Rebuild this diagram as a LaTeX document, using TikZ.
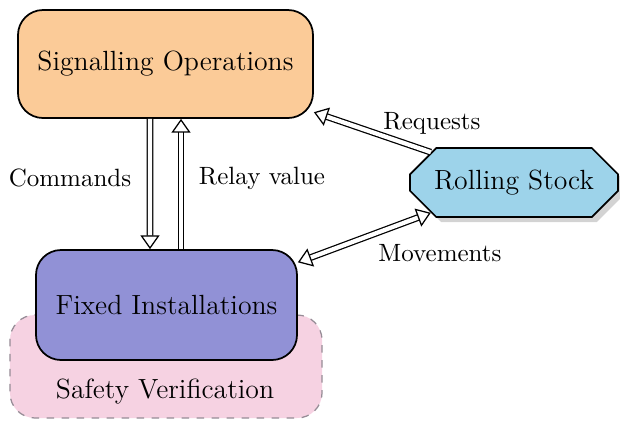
\documentclass[tikz,border=0pt]{standalone}
\usetikzlibrary{arrows.meta,shapes.misc,shadows}
\definecolor{sigfill}{RGB}{251,203,152}
\definecolor{fixfill}{RGB}{145,145,214}
\definecolor{rsfill}{RGB}{157,211,234}
\definecolor{safefill}{RGB}{246,210,226}
\definecolor{safeline}{RGB}{150,140,150}
\begin{document}
\begin{tikzpicture}[x=0.4pt,y=-0.4pt,
  big/.style={font=\fontsize{11.1}{13}\selectfont},
  box/.style={draw=black, line width=0.7pt, rounded corners=10pt, align=center, inner sep=0pt, big},
  tip/.style={},
  dblarrow/.style={double, double distance=1.7pt, line width=0.5pt, -{Triangle[open,length=5.5pt,width=7.6pt,line width=0.5pt]}},
  dblboth/.style={double, double distance=1.7pt, line width=0.5pt, {Triangle[open,length=5.5pt,width=7.6pt,line width=0.5pt]}-{Triangle[open,length=5.5pt,width=7.6pt,line width=0.5pt]}},
  lbl/.style={inner sep=0pt}]
\useasboundingbox (0,0) rectangle (620,422);
\node[box, draw=safeline, dashed, line width=0.5pt, fill=safefill, minimum width=124.8pt, minimum height=41.2pt] (sv) at (166,366.5) {};
\node[lbl, big] (svl) at (165,392) {Safety Verification};
\node[box, fill=sigfill, minimum width=118pt, minimum height=43.2pt] (sig) at (165.5,64) {Signalling Operations};
\node[box, fill=fixfill, minimum width=104.4pt, minimum height=44pt] (fi) at (166.5,305) {Fixed Installations};
\node[chamfered rectangle, chamfered rectangle xsep=5pt, chamfered rectangle ysep=5.5pt, draw=black, line width=0.7pt, fill=rsfill, minimum width=83.2pt, minimum height=27.6pt, inner sep=0pt, big, drop shadow={shadow xshift=2pt, shadow yshift=-2pt, opacity=0.35}] (rs) at (514,182.5) {Rolling Stock};
\draw[dblarrow] ([xshift=-6.2pt]sig.south) -- ([xshift=-6.6pt]fi.north);
\draw[dblarrow] ([xshift=5.8pt]fi.north) -- ([xshift=6.2pt]sig.south);
\draw[dblarrow] (rs.160) -- (sig.-18);
\draw[dblboth] (fi.18) -- (rs.200);
\node[lbl] (cmd) at (70,178) {Commands};
\node[lbl] (rel) at (262,178) {Relay value};
\node[lbl] (req) at (432,123) {Requests};
\node[lbl] (mov) at (440,253) {Movements};
\end{tikzpicture}
\end{document}
